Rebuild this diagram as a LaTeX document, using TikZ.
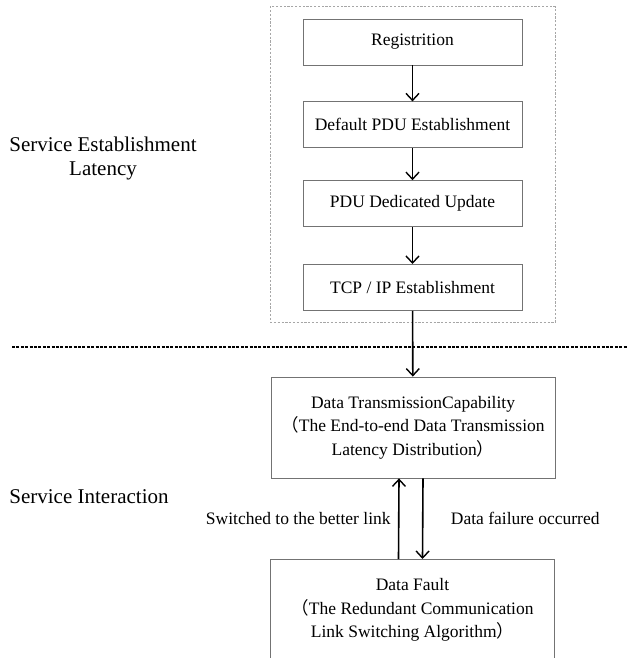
\documentclass[tikz,border=0pt]{standalone}
\usepackage{fontspec}
\setmainfont{Liberation Serif}
\newfontfamily\cjk{Noto Sans CJK SC}
\usepackage{tikz}
\usetikzlibrary{arrows.meta}
\usetikzlibrary{positioning,fit}
\usepackage{xcolor}
\definecolor{boxgray}{rgb}{0.45,0.45,0.45}
\definecolor{framegray}{rgb}{0.65,0.65,0.65}

\begin{document}
\begin{tikzpicture}[x=1pt,y=-1pt,
  stage/.style={draw=boxgray,line width=0.8pt,minimum width=219pt,minimum height=46pt,
    inner sep=0pt,font=\fontsize{17.5}{23.5}\selectfont},
  bigstage/.style={stage,minimum width=284pt,minimum height=101pt,align=center},
  flow/.style={line width=1.6pt,-{Straight Barb[length=7pt,width=13pt,line width=1.4pt]}},
  side/.style={font=\fontsize{21}{24}\selectfont,align=center},
  note/.style={font=\fontsize{17.5}{21}\selectfont}]
\clip (0,0) rectangle (627,658);

% establishment chain
\node[stage] (reg) at (412.5,42) {Registrition};
\node[stage,below=36pt of reg] (pdu) {Default PDU Establishment};
\node[stage,below=32pt of pdu] (upd) {PDU Dedicated Update};
\node[stage,below=37pt of upd] (tcp) {TCP / IP Establishment};
\node[draw=framegray,dashed,dash pattern=on 2.2pt off 1.6pt,line width=0.7pt,
  inner xsep=32.5pt,inner ysep=12pt,fit=(reg)(tcp)] (frame) {};

\draw[flow] (reg) -- (pdu);
\draw[flow] (pdu) -- (upd);
\draw[flow] (upd) -- (tcp);

% phase separator
\coordinate (sepl) at (12,347);
\coordinate (sepr) at (627,347);
\draw[line width=1.5pt,dash pattern=on 3pt off 1.4pt] (sepl) -- (sepr);

% interaction
\node[bigstage] (trans) at (413,427.5) {Data TransmissionCapability\\
  {\cjk （}The End-to-end Data Transmission\\Latency Distribution{\cjk ）}};
\node[bigstage,anchor=north] (fault) at (412.5,559) {Data Fault\\
  {\cjk （}The Redundant Communication\\Link Switching Algorithm{\cjk ）}};

\draw[flow] (tcp) -- (trans);
\draw[flow] ([xshift=-14pt]fault.north) -- node[note,left=4pt] {Switched to the better link}
  ([xshift=-14pt]trans.south);
\draw[flow] ([xshift=10pt]trans.south) -- node[note,right=24pt] {Data failure occurred}
  ([xshift=10pt]fault.north);

% phase labels
\node[side] (est) at (103,158) {Service Establishment\\Latency};
\node[side] (inter) at (89,497) {Service Interaction};
\end{tikzpicture}
\end{document}
